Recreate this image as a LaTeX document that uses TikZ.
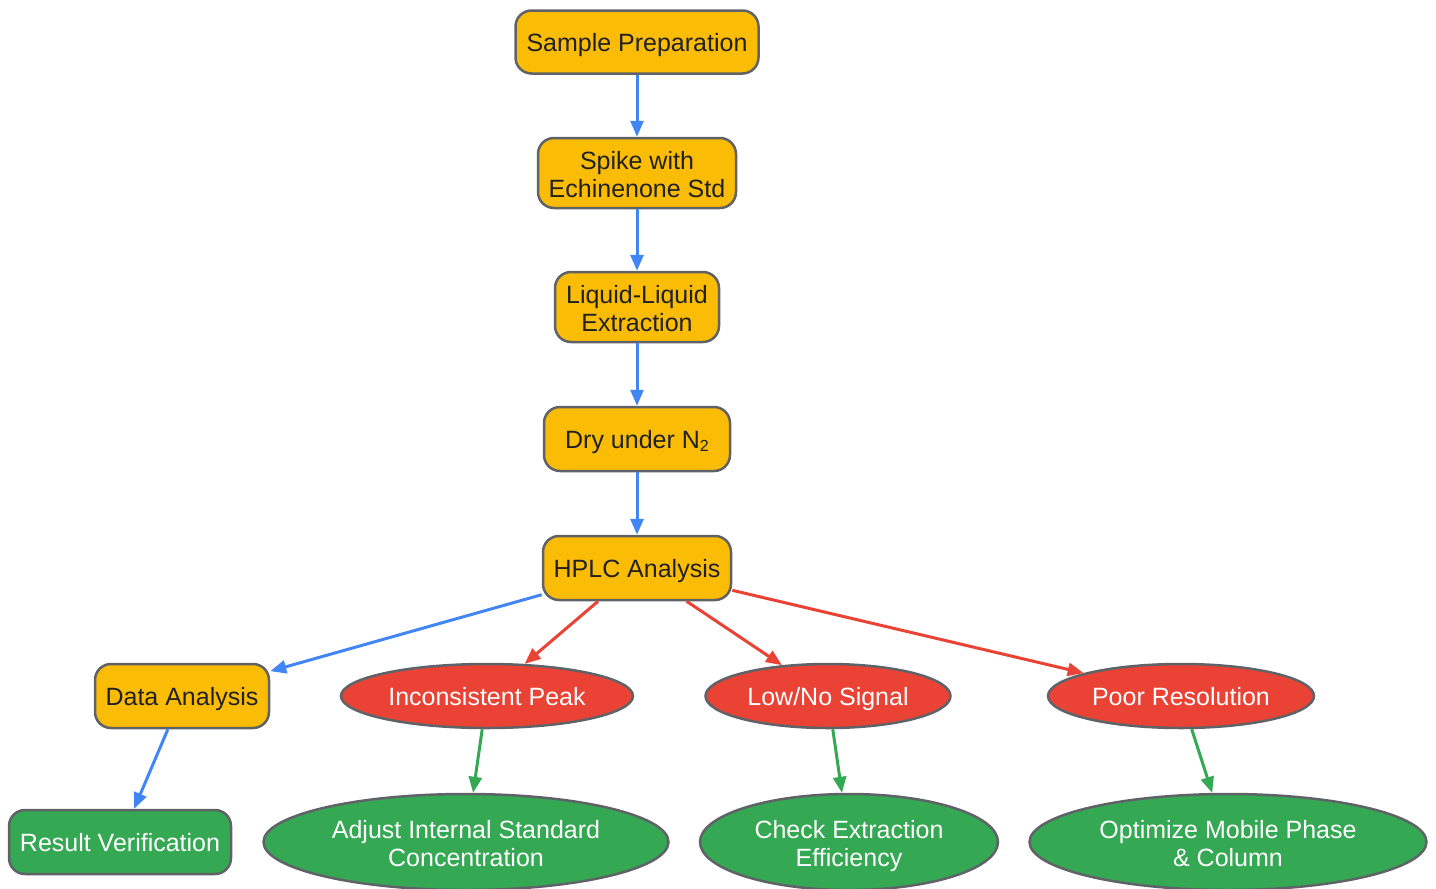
\documentclass[tikz,border=0pt]{standalone}
\usepackage{fontspec}
\setmainfont{Liberation Sans}
\usetikzlibrary{arrows.meta,shapes.geometric}
\definecolor{gyellow}{HTML}{FBBC05}
\definecolor{gred}{HTML}{EA4335}
\definecolor{ggreen}{HTML}{34A853}
\definecolor{gblue}{HTML}{4285F4}
\definecolor{gborder}{HTML}{5F6368}
\definecolor{gtext}{HTML}{202124}
\newcommand\twol[2]{\begin{tabular}[b]{@{}c@{}}#1\\#2\end{tabular}}
\tikzset{
  base/.style={draw=gborder, line width=2.5pt, inner sep=0pt,
    font=\fontsize{25}{28}\selectfont, text height=25pt, text depth=6pt},
  twolines/.style={text height=54pt, text depth=6pt},
  ybox/.style={base, fill=gyellow, text=gtext, rounded corners=16pt},
  gbox/.style={base, fill=ggreen, text=white, rounded corners=16pt},
  rell/.style={base, ellipse, fill=gred, text=white},
  gell/.style={base, ellipse, fill=ggreen, text=white},
  conn/.style={line width=3pt, -{Triangle[length=16pt,width=13pt]}},
  bconn/.style={conn, draw=gblue, fill=gblue},
  rconn/.style={conn, draw=gred, fill=gred},
  gconn/.style={conn, draw=ggreen, fill=ggreen},
}
\begin{document}
\begin{tikzpicture}[x=1pt,y=-1pt]
\useasboundingbox (0,0) rectangle (1436,889);
\node[ybox, minimum width=243pt, minimum height=63pt] (prep) at (637,42) {Sample Preparation};
\node[ybox, twolines, minimum width=198pt, minimum height=70pt] (spike) at (637,173) {\twol{Spike with}{Echinenone Std}};
\node[ybox, twolines, minimum width=164pt, minimum height=70pt] (lle) at (637,307) {\twol{Liquid-Liquid}{Extraction}};
\node[ybox, minimum width=186pt, minimum height=64pt] (dry) at (637,439) {Dry under N\raisebox{-0.1em}{\fontsize{16}{16}\selectfont 2}};
\node[ybox, minimum width=188pt, minimum height=64pt] (hplc) at (637,568) {HPLC Analysis};
\node[ybox, minimum width=174pt, minimum height=64pt] (data) at (182,696) {Data Analysis};
\node[rell, minimum width=292pt, minimum height=64pt] (incon) at (487,696) {Inconsistent Peak};
\node[rell, minimum width=245pt, minimum height=64pt] (low) at (828,696) {Low/No Signal};
\node[rell, minimum width=266pt, minimum height=64pt] (poor) at (1181,696) {Poor Resolution};
\node[gbox, minimum width=222pt, minimum height=64pt] (result) at (120,842) {Result Verification};
\node[gell, twolines, minimum width=405pt, minimum height=96pt] (adjust) at (466,842) {\twol{Adjust Internal Standard}{Concentration}};
\node[gell, twolines, minimum width=298pt, minimum height=96pt] (check) at (849,842) {\twol{Check Extraction}{Efficiency}};
\node[gell, twolines, minimum width=397pt, minimum height=96pt] (opt) at (1228,842) {\twol{Optimize Mobile Phase}{\& Column}};
\draw[bconn] (prep) -- (spike);
\draw[bconn] (spike) -- (lle);
\draw[bconn] (lle) -- (dry);
\draw[bconn] (dry) -- (hplc);
\draw[bconn] (hplc) -- (data);
\draw[rconn] (hplc) -- (incon);
\draw[rconn] (hplc) -- (low);
\draw[rconn] (hplc) -- (poor);
\draw[bconn] (data) -- (result);
\draw[gconn] (incon) -- (adjust);
\draw[gconn] (low) -- (check);
\draw[gconn] (poor) -- (opt);
\end{tikzpicture}
\end{document}
